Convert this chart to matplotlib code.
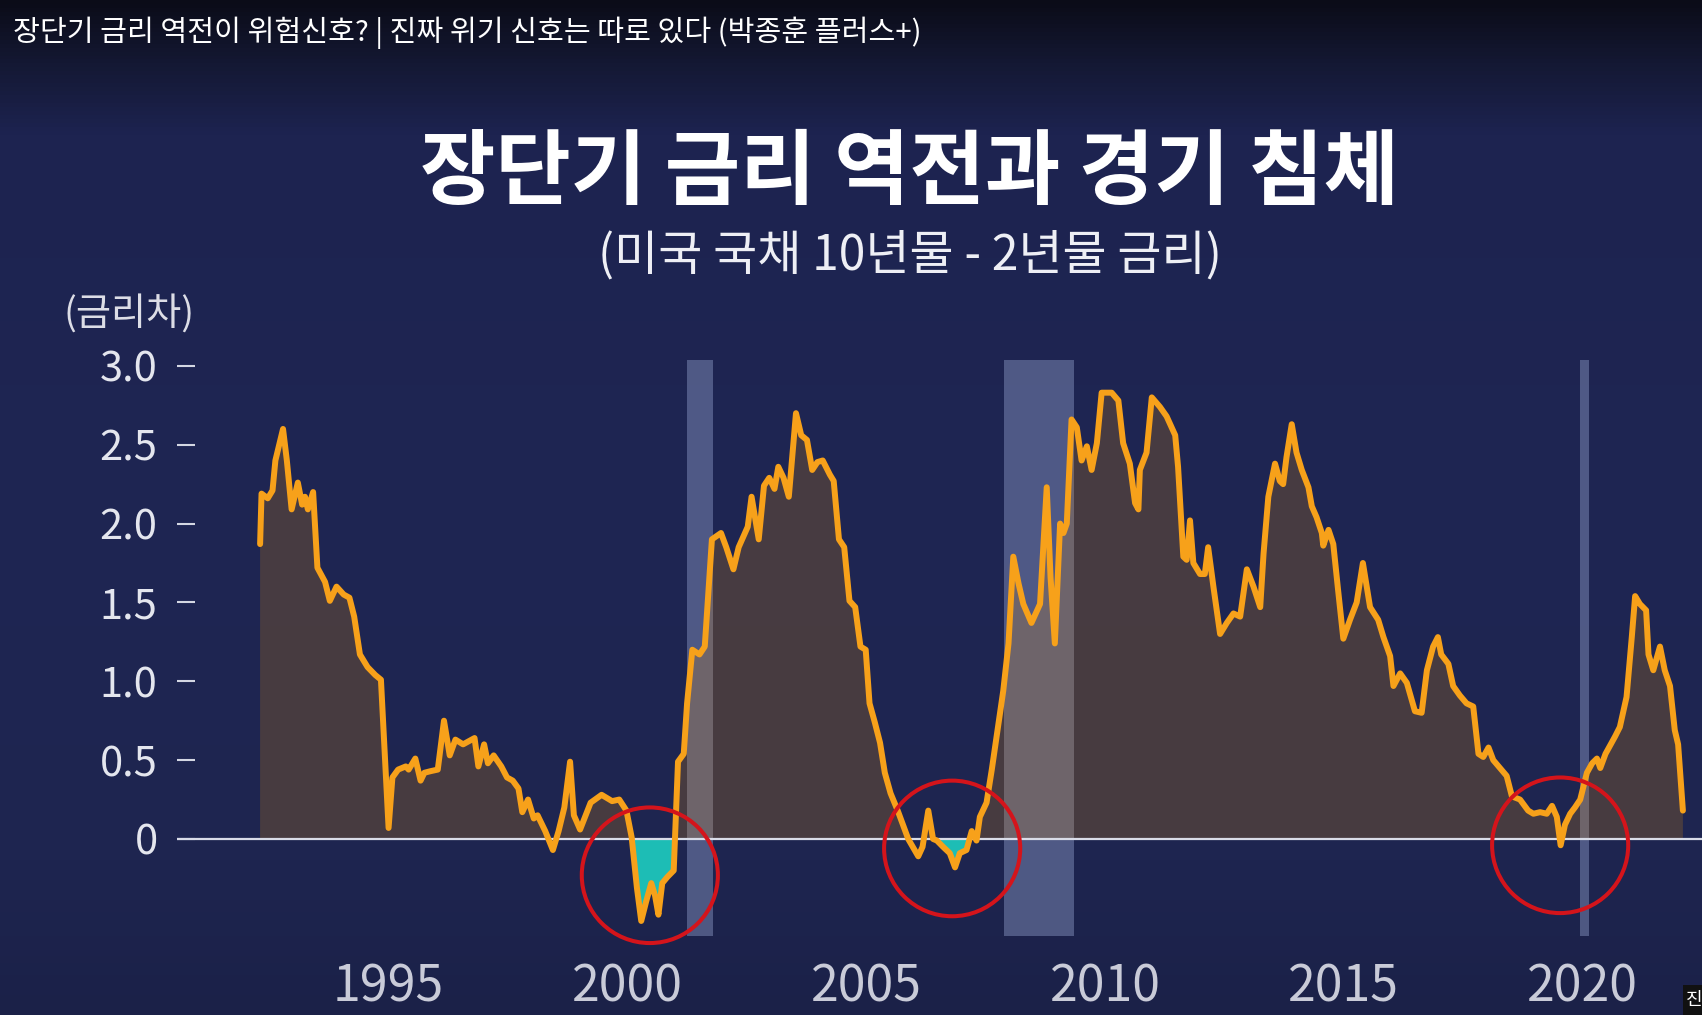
import numpy as np
import matplotlib
matplotlib.use('Agg')
import matplotlib.pyplot as plt
from matplotlib.patches import Ellipse, Rectangle
from matplotlib.colors import LinearSegmentedColormap

plt.rcParams['font.family'] = ['Noto Sans CJK KR', 'DejaVu Sans']

# 미국 국채 10년물 - 2년물 금리차
years = [
    1992.31, 1992.34, 1992.47, 1992.57, 1992.63, 1992.79, 1992.87, 1992.97,
    1993.10, 1993.19, 1993.25, 1993.31, 1993.42, 1993.51, 1993.67, 1993.77,
    1993.91, 1994.06, 1994.18, 1994.28, 1994.40, 1994.56, 1994.72, 1994.84,
    1995.00, 1995.08, 1995.20, 1995.36, 1995.42, 1995.56, 1995.67, 1995.75,
    1995.88, 1996.03, 1996.16, 1996.28, 1996.40, 1996.56, 1996.80, 1996.88,
    1997.00, 1997.08, 1997.20, 1997.36, 1997.48, 1997.60, 1997.72, 1997.80,
    1997.92, 1998.04, 1998.12, 1998.28, 1998.44, 1998.56, 1998.68, 1998.80,
    1998.88, 1999.01, 1999.23, 1999.46, 1999.68, 1999.83, 1999.98, 2000.09,
    2000.20, 2000.29, 2000.39, 2000.50, 2000.58, 2000.65, 2000.73, 2000.84,
    2000.97, 2001.06, 2001.18, 2001.25, 2001.36, 2001.51, 2001.62, 2001.77,
    2001.96, 2002.07, 2002.22, 2002.33, 2002.52, 2002.60, 2002.75, 2002.86,
    2002.97, 2003.08, 2003.16, 2003.27, 2003.38, 2003.53, 2003.64, 2003.76,
    2003.87, 2003.98, 2004.09, 2004.24, 2004.32, 2004.43, 2004.54, 2004.65,
    2004.77, 2004.88, 2004.99, 2005.07, 2005.18, 2005.29, 2005.39, 2005.51,
    2005.66, 2005.88, 2006.09, 2006.18, 2006.30, 2006.40, 2006.48, 2006.61,
    2006.75, 2006.86, 2006.96, 2007.10, 2007.21, 2007.31, 2007.38, 2007.52,
    2007.63, 2007.73, 2007.87, 2007.98, 2008.08, 2008.19, 2008.29, 2008.46,
    2008.64, 2008.78, 2008.86, 2008.95, 2009.06, 2009.13, 2009.20, 2009.30,
    2009.41, 2009.51, 2009.62, 2009.72, 2009.83, 2009.93, 2010.14, 2010.28,
    2010.38, 2010.52, 2010.63, 2010.70, 2010.73, 2010.87, 2010.98, 2011.15,
    2011.29, 2011.47, 2011.53, 2011.64, 2011.71, 2011.78, 2011.85, 2011.99,
    2012.09, 2012.16, 2012.27, 2012.41, 2012.55, 2012.69, 2012.83, 2012.97,
    2013.11, 2013.25, 2013.32, 2013.42, 2013.56, 2013.66, 2013.73, 2013.80,
    2013.91, 2014.01, 2014.12, 2014.26, 2014.33, 2014.43, 2014.54, 2014.57,
    2014.68, 2014.78, 2014.88, 2014.99, 2015.13, 2015.27, 2015.40, 2015.55,
    2015.72, 2015.83, 2015.97, 2016.04, 2016.18, 2016.32, 2016.49, 2016.63,
    2016.74, 2016.87, 2016.97, 2017.04, 2017.19, 2017.29, 2017.43, 2017.57,
    2017.71, 2017.82, 2017.92, 2018.03, 2018.13, 2018.27, 2018.41, 2018.52,
    2018.69, 2018.86, 2018.97, 2019.11, 2019.25, 2019.36, 2019.46, 2019.54,
    2019.63, 2019.74, 2019.84, 2019.95, 2020.09, 2020.20, 2020.30, 2020.37,
    2020.48, 2020.57, 2020.68, 2020.78, 2020.92, 2021.03, 2021.10, 2021.20,
    2021.33, 2021.38, 2021.48, 2021.62, 2021.72, 2021.83, 2021.93, 2022.00,
    2022.10,
]
spread = [
    1.87, 2.19, 2.16, 2.21, 2.40, 2.60, 2.40, 2.09,
    2.26, 2.12, 2.17, 2.09, 2.20, 1.72, 1.63, 1.51,
    1.60, 1.55, 1.53, 1.41, 1.17, 1.09, 1.04, 1.01,
    0.07, 0.39, 0.44, 0.46, 0.44, 0.51, 0.37, 0.42,
    0.43, 0.44, 0.75, 0.53, 0.63, 0.60, 0.64, 0.46,
    0.60, 0.48, 0.53, 0.46, 0.39, 0.37, 0.32, 0.17,
    0.25, 0.13, 0.15, 0.05, -0.07, 0.05, 0.20, 0.49,
    0.15, 0.06, 0.23, 0.28, 0.24, 0.25, 0.18, 0.01,
    -0.31, -0.52, -0.40, -0.28, -0.36, -0.48, -0.28, -0.24,
    -0.20, 0.49, 0.54, 0.86, 1.20, 1.17, 1.22, 1.90,
    1.94, 1.85, 1.71, 1.85, 1.98, 2.17, 1.90, 2.24,
    2.29, 2.22, 2.36, 2.29, 2.17, 2.70, 2.56, 2.53,
    2.34, 2.39, 2.40, 2.31, 2.27, 1.90, 1.85, 1.51,
    1.47, 1.22, 1.20, 0.86, 0.74, 0.61, 0.42, 0.29,
    0.18, 0.00, -0.11, -0.05, 0.18, 0.00, -0.01, -0.05,
    -0.09, -0.18, -0.09, -0.07, 0.05, -0.01, 0.14, 0.23,
    0.44, 0.65, 0.94, 1.24, 1.79, 1.62, 1.49, 1.37,
    1.49, 2.23, 1.66, 1.24, 2.00, 1.94, 2.00, 2.66,
    2.61, 2.40, 2.49, 2.34, 2.51, 2.83, 2.83, 2.78,
    2.51, 2.38, 2.13, 2.09, 2.34, 2.45, 2.80, 2.74,
    2.68, 2.56, 2.36, 1.79, 1.77, 2.02, 1.75, 1.68,
    1.68, 1.85, 1.60, 1.30, 1.37, 1.43, 1.41, 1.71,
    1.60, 1.47, 1.81, 2.17, 2.38, 2.27, 2.25, 2.42,
    2.63, 2.45, 2.34, 2.23, 2.11, 2.04, 1.94, 1.86,
    1.96, 1.87, 1.58, 1.27, 1.39, 1.50, 1.75, 1.47,
    1.39, 1.28, 1.16, 0.97, 1.05, 0.99, 0.81, 0.80,
    1.07, 1.22, 1.28, 1.17, 1.11, 0.97, 0.91, 0.86,
    0.84, 0.54, 0.52, 0.58, 0.50, 0.45, 0.40, 0.27,
    0.25, 0.18, 0.16, 0.17, 0.16, 0.21, 0.14, -0.04,
    0.09, 0.16, 0.20, 0.25, 0.42, 0.48, 0.51, 0.45,
    0.54, 0.59, 0.65, 0.71, 0.90, 1.28, 1.54, 1.49,
    1.45, 1.17, 1.07, 1.22, 1.07, 0.97, 0.69, 0.60,
    0.18,
]

# 경기 침체 구간
recession_start = [2001.25, 2007.89, 2019.95]
recession_end = [2001.79, 2009.35, 2020.14]

# 청록색으로 칠한 역전 구간
inversion_start = [2000.0, 2006.5]
inversion_end = [2001.2, 2007.3]

# 빨간 동그라미 (연도, 금리차)
circle_year = [2000.47, 2006.80, 2019.53]
circle_value = [-0.23, -0.06, -0.04]

ytick_values = [0, 0.5, 1.0, 1.5, 2.0, 2.5, 3.0]
ytick_labels = ['0', '0.5', '1.0', '1.5', '2.0', '2.5', '3.0']
xtick_years = [1995, 2000, 2005, 2010, 2015, 2020]

W, H = 1702, 1015
fig = plt.figure(figsize=(W / 100, H / 100), dpi=100)

# 배경 그라데이션
bg = fig.add_axes([0, 0, 1, 1])
bg.axis('off')
bg_cmap = LinearSegmentedColormap.from_list('bg', [
    (0.0, '#0b0c18'), (0.06, '#141833'), (0.13, '#1d2350'),
    (0.5, '#1f2653'), (0.85, '#1e2550'), (1.0, '#1b2148')])
bg.imshow(np.linspace(0, 1, 256).reshape(-1, 1), aspect='auto', cmap=bg_cmap,
          extent=[0, 1, 0, 1])
bg.set_xlim(0, 1)
bg.set_ylim(0, 1)

ax = fig.add_axes([177 / W, (H - 950) / H, 1 - 177 / W, (950 - 340) / H])
ax.set_facecolor('none')
ax.set_xlim(1990.57, 2022.50)
ax.set_ylim(-0.704, 3.164)

x = np.array(years)
y = np.array(spread)

# 경기 침체 음영
shade_bottom, shade_top = -0.615, 3.04
ax.bar(x=recession_start, height=shade_top - shade_bottom,
       width=np.array(recession_end) - np.array(recession_start),
       bottom=shade_bottom, align='edge',
       color='#b4c6f2', alpha=0.33, linewidth=0, zorder=1)

# 금리차 면적
ax.fill_between(x, y, 0, where=y >= 0, interpolate=True,
                color='#ec9400', alpha=0.2, linewidth=0, zorder=2)
for s, e in zip(inversion_start, inversion_end):
    m = (x >= s) & (x <= e)
    ax.fill_between(x, y, 0, where=m & (y <= 0), interpolate=True,
                    color='#1dbdb5', linewidth=0, zorder=2)

ax.axhline(0, color='#d9dce8', lw=1.6, zorder=3)
ax.plot(x, y, color='#f7a11a', lw=4.3, solid_joinstyle='round',
        solid_capstyle='round', zorder=4)

for cx, cy in zip(circle_year, circle_value):
    ax.add_patch(Ellipse((cx, cy), width=2.85, height=0.86, fill=False,
                         edgecolor='#d4141b', lw=2.9, zorder=5))

for side in ax.spines.values():
    side.set_visible(False)

ax.set_yticks(ytick_values, labels=ytick_labels)
ax.tick_params(axis='y', direction='in', length=13, width=1.5,
               color='#d4d7e3', pad=14, labelsize=30, labelcolor='#e4e6ee')
ax.set_xticks(xtick_years, labels=[str(v) for v in xtick_years])
ax.tick_params(axis='x', length=0, pad=8, labelsize=36, labelcolor='#c9cbd8')

# 텍스트
fig.text(13 / W, 1 - 33 / H,
         '장단기 금리 역전이 위험신호? | 진짜 위기 신호는 따로 있다 (박종훈 플러스+)',
         ha='left', va='center', fontsize=21, color='white')
fig.text(909 / W, 1 - 174 / H, '장단기 금리 역전과 경기 침체',
         ha='center', va='center', fontsize=59, fontweight='heavy', color='white')
fig.text(910 / W, 1 - 256 / H, '(미국 국채 10년물 - 2년물 금리)',
         ha='center', va='center', fontsize=34.5, fontweight='light', color='#eeeff5')
fig.text(129 / W, 1 - 314 / H, '(금리차)', ha='center', va='center',
         fontsize=27.5, fontweight='light', color='#dcdde6')

# 오른쪽 아래 모서리
fig.patches.append(Rectangle((1683 / W, 0), 19 / W, 30 / H, transform=fig.transFigure,
                             facecolor='#111111', edgecolor='none'))
fig.text(1686 / W, 15 / H, '진', ha='left', va='center', fontsize=13, color='white')

fig.savefig('out.png', dpi=100)
